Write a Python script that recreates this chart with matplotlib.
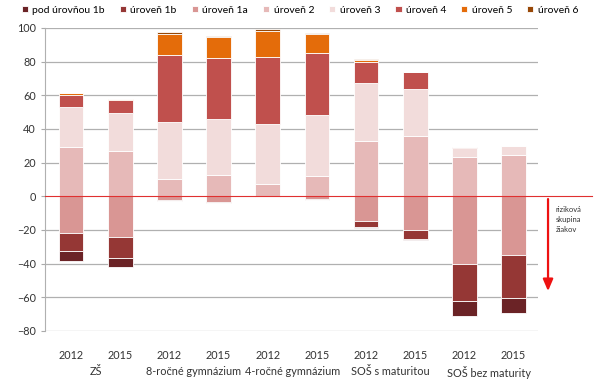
import matplotlib.pyplot as plt
import numpy as np

plt.rcParams['font.family'] = ['Lato', 'DejaVu Sans']

years = ['2012', '2015'] * 5
groups = ['ZŠ', '8-ročné gymnázium', '4-ročné gymnázium', 'SOŠ s maturitou', 'SOŠ bez maturity']

# below level 2 (drawn downward)
pod_1b = [5.6, 5.0, 0.1, 0.0, 0.0, 0.0, 0.6, 0.4, 8.9, 9.1]
lvl_1b = [10.9, 12.7, 0.5, 0.3, 0.0, 0.2, 3.6, 5.1, 22.4, 25.2]
lvl_1a = [21.8, 24.2, 2.2, 3.7, 0.3, 1.8, 14.7, 20.2, 40.1, 35.1]
# level 2 and above (drawn upward)
lvl_2 = [29.4, 27.0, 10.3, 12.5, 7.1, 11.9, 32.7, 35.7, 23.4, 24.4]
lvl_3 = [23.4, 22.2, 33.9, 33.7, 35.6, 36.3, 34.8, 28.0, 5.4, 5.4]
lvl_4 = [7.1, 7.8, 39.9, 35.7, 40.2, 36.7, 12.5, 9.9, 0.4, 0.0]
lvl_5 = [1.2, 0.7, 12.3, 12.9, 15.1, 11.5, 1.2, 0.4, 0.0, 0.0]
lvl_6 = [0.1, 0.1, 1.1, 0.6, 1.2, 0.6, 0.2, 0.0, 0.0, 0.0]

labels = ['pod úrovňou 1b', 'úroveň 1b', 'úroveň 1a', 'úroveň 2',
          'úroveň 3', 'úroveň 4', 'úroveň 5', 'úroveň 6']
colors = ['#6b2326', '#953735', '#d99694', '#e6b9b8',
          '#f2dcdb', '#c0504d', '#e46c0a', '#984807']

fig = plt.figure(figsize=(6, 3.83), dpi=100)
ax = fig.add_axes([0.075, 0.136, 0.822, 0.791])

x = np.arange(len(years))
w = 0.5
kw = dict(width=w, edgecolor='white', linewidth=0.6, zorder=3)

handles = {}
neg = np.zeros(len(x))
for vals, lab, col in [(lvl_1a, labels[2], colors[2]),
                       (lvl_1b, labels[1], colors[1]),
                       (pod_1b, labels[0], colors[0])]:
    v = np.array(vals)
    handles[lab] = ax.bar(x, -v, bottom=neg, color=col, label=lab, **kw)
    neg -= v

pos = np.zeros(len(x))
for vals, lab, col in [(lvl_2, labels[3], colors[3]),
                       (lvl_3, labels[4], colors[4]),
                       (lvl_4, labels[5], colors[5]),
                       (lvl_5, labels[6], colors[6]),
                       (lvl_6, labels[7], colors[7])]:
    v = np.array(vals)
    handles[lab] = ax.bar(x, v, bottom=pos, color=col, label=lab, **kw)
    pos += v

ax.set_xlim(-0.53, 9.5)
ax.set_ylim(-80, 100)
ax.set_yticks(np.arange(-80, 101, 20))
ax.tick_params(axis='y', labelsize=7.8, length=3, color='#aaaaaa', labelcolor='#333333')
ax.set_xticks(x)
ax.set_xticklabels(years, fontsize=7.8, color='#333333')
ax.tick_params(axis='x', length=0, pad=14)

for yv in np.arange(-80, 101, 20):
    if yv != 0:
        ax.axhline(yv, color='#b0b0b0', linewidth=0.9, zorder=1)

for s in ['top', 'right', 'bottom']:
    ax.spines[s].set_visible(False)
ax.spines['left'].set_color('#b0b0b0')

# zero line running past the axes
ax.plot([-0.53, 10.6], [0, 0], color='#e03030', linewidth=0.8, zorder=4, clip_on=False)

# group labels
for i, g in enumerate(groups):
    ax.text(2 * i + 0.5, -0.115, g, transform=ax.get_xaxis_transform(),
            ha='center', va='top', fontsize=7.8, color='#333333')

# risk arrow
ax.annotate('', xy=(9.7, -58), xytext=(9.7, 0), xycoords='data',
            arrowprops=dict(arrowstyle='-|>,head_width=0.3,head_length=0.7',
                            color='#ee1111', linewidth=1.6),
            annotation_clip=False)
ax.text(9.85, -6, 'riziková\nskupina\nžiakov', fontsize=5.5, color='#333333',
        va='top', ha='left', linespacing=1.5, clip_on=False)

fig.legend([handles[l] for l in labels], labels, loc='upper center',
           bbox_to_anchor=(0.5, 1.01), ncol=8, frameon=False, fontsize=7.5,
           handlelength=0.6, handleheight=0.6, handletextpad=0.4, columnspacing=1.45)

fig.savefig('out.png', dpi=100)
